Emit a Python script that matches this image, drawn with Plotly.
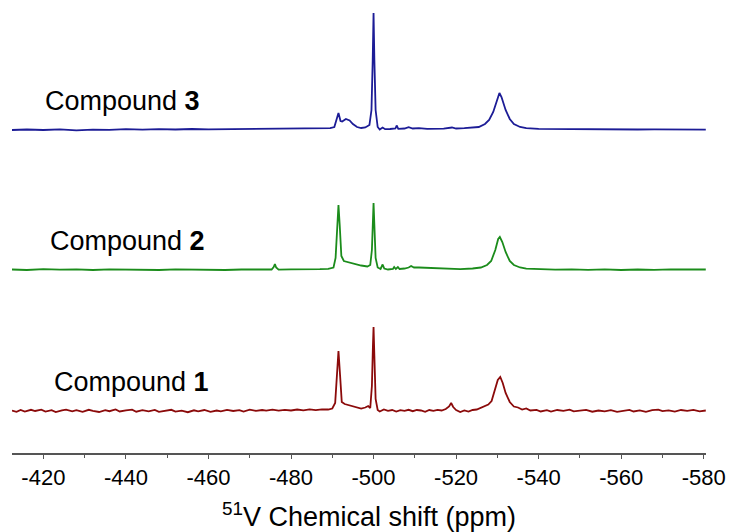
import plotly.graph_objects as go

# ---------------- data ----------------
# 51V chemical shift (ppm) and intensity above each trace's own baseline (a.u.)
ppm_c3 = [-412.4, -416, -420, -424, -428, -432, -436, -440, -444, -448, -452, -456,
          -460, -464, -468, -472, -476, -480, -484, -488, -489.5, -490.5, -491.0,
          -491.5, -492.0, -492.4, -493.3, -494.2, -495.0, -496.0, -497.0, -498.0,
          -499.0, -499.5, -499.8, -500.0, -500.2, -500.5, -501.0, -501.5, -502.2,
          -502.8, -504, -505.3, -505.6, -506, -507.5, -508.5, -509.5, -511, -513,
          -515, -517, -519, -520, -522, -524, -525.5, -527, -528, -529, -530,
          -530.5, -531, -532, -533, -534, -535.5, -537, -540, -544, -548, -552,
          -556, -560, -564, -568, -572, -576, -580.5]
int_c3 = [0, 0.5, 0, 0.6, -0.3, 0.4, 0.2, 0.8, 0.3, 0.9, 0.5, 1.0,
          0.6, 0.8, 1.0, 0.7, 1.2, 0.9, 1.2, 1.5, 1.8, 3, 10,
          17, 9, 8.5, 11, 9.5, 6, 3, 2, 2.5,
          5, 20, 70, 117, 70, 20, 3, 0.5, 2.5,
          0.8, 1, 1.5, 4.5, 1.2, 1.5, 2.8, 1.5, 1.8, 1.2,
          1.5, 1.3, 2.5, 1.5, 1.8, 2.5, 3, 6, 10, 18, 32,
          37, 33, 20, 11, 6, 3, 1.8, 1.2, 1.0, 0.8, 1.0,
          0.6, 0.8, 0.5, 0.7, 0.4, 0.6, 0.4]

ppm_c2 = [-412.4, -416, -420, -424, -428, -432, -436, -440, -444, -448, -452, -456,
          -460, -464, -468, -472, -475.3, -475.8, -476.1, -476.4, -477, -480, -484,
          -487, -489, -490.3, -490.8, -491.2, -491.5, -491.8, -492.2, -492.8, -494,
          -495.5, -497, -498.5, -499.2, -499.6, -499.85, -500.0, -500.2, -500.5,
          -501, -501.7, -502.2, -502.6, -503.5, -504.7, -505.0, -505.4, -505.9,
          -506.3, -507.5, -508.5, -509.1, -509.8, -511, -513, -515, -518, -521,
          -524, -526, -527.5, -528.5, -529.5, -530.2, -530.6, -531.2, -532, -533,
          -534, -535.5, -537, -540, -544, -548, -552, -556, -560, -564, -568, -572,
          -576, -580.5]
int_c2 = [0.5, 0, 0.8, 0.3, 0.6, 0, 0.7, 0.3, 0.5, 0, 0.6, 0.2,
          0.4, 0, 0.5, 0.2, 0.5, 3, 6, 2.5, 0.3, 0.6, 0.4,
          0.8, 1.2, 2.5, 12, 50, 65, 45, 14, 9, 7.5,
          6, 4.5, 3.5, 5, 20, 55, 67, 45, 12,
          2.5, 1, 5.5, 1.5, 0.5, 1, 3, 1, 3,
          1, 1.5, 2.5, 4, 2.5, 2.5, 2.2, 1.5, 0.8, 0.8,
          1.5, 2.5, 5, 9, 20, 31, 33, 28, 18, 9,
          5, 2.5, 1.3, 0.8, 0.3, 0.7, 0.2, 0.6, 0, 0.5, 0.1, 0.6,
          0.2, 0.5]

ppm_c1 = [-412.4, -413.5, -414.5, -415.5, -417, -418, -419.5, -420.5, -422, -423,
          -424.5, -425.5, -427, -428, -429.5, -431, -432, -433.5, -435, -436,
          -437.5, -438.5, -440, -441.5, -442.5, -444, -445.5, -447, -448, -449.5,
          -451, -452, -453.5, -455, -456.5, -457.5, -459, -460.5, -462, -463,
          -464.5, -466, -467.5, -468.5, -470, -471.5, -473, -474, -475.5, -477,
          -478.5, -480, -481.5, -483, -484.5, -486, -487.5, -489, -490, -490.7,
          -491.1, -491.5, -491.9, -492.3, -493, -494, -495, -496, -497, -498,
          -498.7, -499.2, -499.6, -499.85, -500.0, -500.2, -500.5, -501, -501.5,
          -502.5, -503.5, -504.5, -505.5, -506.5, -507.5, -508.5, -509.5, -510.5,
          -511.5, -512.5, -513.5, -514.5, -515.5, -516.5, -517.5, -518.3, -518.8,
          -519.3, -520, -521, -522, -523, -524, -525, -526, -527, -527.8, -528.6,
          -529.4, -530.1, -530.7, -531.3, -532, -533, -534, -535, -536, -537,
          -538, -539.5, -540.5, -542, -543, -544.5, -546, -547.5, -548.5, -550,
          -551.5, -553, -554.5, -556, -557.5, -559, -560.5, -562, -563, -564.5,
          -566, -567.5, -569, -570, -571.5, -573, -574.5, -576, -577.5, -579,
          -580.5]
int_c1 = [0.5, -0.8, 1.0, -0.5, 1.2, 0, 1.3, -0.6, 0.8, -1.0,
          0.6, 1.4, -0.4, 0.9, -0.8, 1.2, 0.2, -1.0, 0.8, -0.2,
          1.5, -0.5, 0.7, 1.3, -0.7, 0.9, -0.3, 1.1, -0.9, 0.4,
          1.2, -0.6, 0.3, -1.2, 0.7, -0.3, 1.0, -0.8, 0.5, -0.4,
          1.1, 0, 0.9, -0.5, 1.3, 0.1, 1.0, 0.3, 1.4, 0.4,
          1.2, 0.5, 1.5, 0.6, 1.6, 0.8, 1.7, 1.5, 2.5, 8,
          40, 60, 35, 9, 7, 6, 4.5, 3.5, 2.5, 3.5,
          5, 3, 25, 65, 84, 55, 12, 1, -0.5,
          1.5, 0.2, 1, -0.5, 0.8, 0.2, 1.2, -0.2, 1.0,
          0.5, -0.8, 1.0, 0.2, 1.2, 0.5, 2, 4.5, 8,
          4, 1, -1.0, 0.5, -0.5, 1.0, 1.5, 3.5, 5, 6.5, 10,
          20, 31, 34, 28, 18, 9, 4.5, 3.5, 1.5, 2.5,
          0.5, 1.2, -0.5, 0.8, -0.6, 1.0, 0.2, 1.4, -0.4, 0.6,
          1.2, -0.7, 0.5, -0.3, 0.9, -0.8, 0.4, 1.1, -0.5, 0.6,
          -0.9, 0.8, 1.3, -0.2, 0.7, -0.6, 1.0, 0.2, 1.2, -0.3,
          0.5]

labels = ["Compound <b>1</b>", "Compound <b>2</b>", "Compound <b>3</b>"]
tick_vals = [-420, -440, -460, -480, -500, -520, -540, -560, -580]
tick_text = [str(v) for v in tick_vals]
x_title = "<sup>51</sup>V Chemical shift (ppm)"

# ---------------- styling / layout ----------------
offsets = [42, 183, 323]           # vertical stacking of the spectra
colors = ["#8b0a0a", "#1b8c1b", "#1c1c96"]
FONT = "Liberation Sans, Arial, sans-serif"

fig = go.Figure()
for ppm, inten, off, col in zip([ppm_c1, ppm_c2, ppm_c3],
                                [int_c1, int_c2, int_c3], offsets, colors):
    fig.add_trace(go.Scatter(x=ppm, y=[v + off for v in inten], mode="lines",
                             line=dict(color=col, width=1.8), showlegend=False,
                             hoverinfo="skip"))

label_pos = [(-422.0, 71), (-421.1, 212), (-419.9, 352)]
for (lx, ly), txt in zip(label_pos, labels):
    fig.add_annotation(x=lx, y=ly, xref="x", yref="y", text=txt, showarrow=False,
                       xanchor="left", yanchor="middle",
                       font=dict(family=FONT, size=27, color="black"))

fig.add_annotation(x=(370 - 12) / 696, y=-(515 - 453) / 443, xref="paper", yref="paper",
                   text=x_title, showarrow=False, xanchor="center", yanchor="middle",
                   font=dict(family=FONT, size=27, color="black"))

fig.update_layout(
    width=736, height=532,
    margin=dict(l=12, r=28, t=10, b=79),
    paper_bgcolor="white", plot_bgcolor="white",
    font=dict(family=FONT, color="black"),
)
fig.update_xaxes(range=[-412.4, -580.55], showgrid=False, zeroline=False,
                 showline=True, linecolor="#555555", linewidth=1.5,
                 ticks="outside", ticklen=4, tickwidth=1.2, tickcolor="#555555",
                 tickvals=tick_vals, ticktext=tick_text,
                 tickfont=dict(family=FONT, size=22, color="black"),
                 minor=dict(dtick=10, tick0=-420, ticks="outside", ticklen=3,
                            tickwidth=1.2, tickcolor="#555555", showgrid=False))
fig.update_yaxes(range=[0, 443], visible=False, showgrid=False, zeroline=False)

fig.write_html("out.html")
